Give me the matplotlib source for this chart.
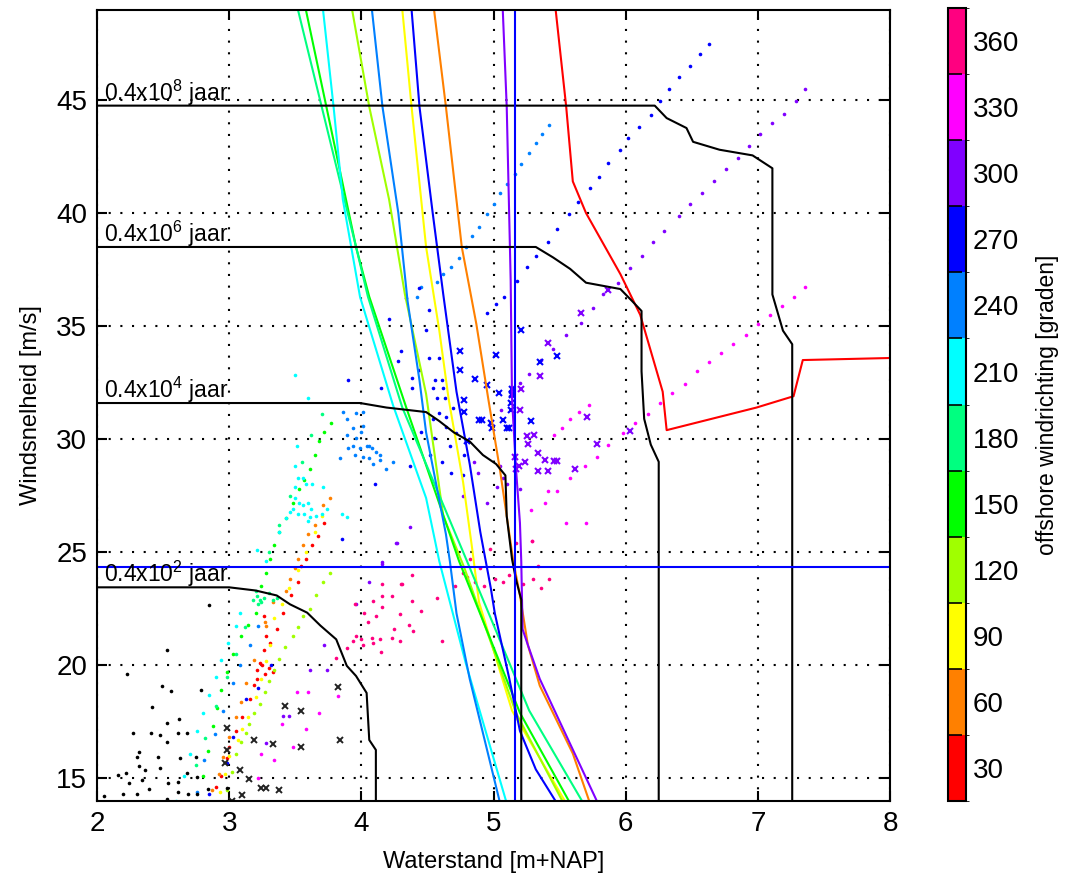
import matplotlib
matplotlib.use("Agg")
import matplotlib.pyplot as plt
from matplotlib.colors import ListedColormap, BoundaryNorm
from matplotlib.cm import ScalarMappable

plt.rcParams['font.family'] = ['Liberation Sans', 'DejaVu Sans']
plt.rcParams['mathtext.fontset'] = 'custom'
plt.rcParams['mathtext.rm'] = 'Liberation Sans'

# ---- colour classes (offshore wind direction, degrees) ----
directions = [30, 60, 90, 120, 150, 180, 210, 240, 270, 300, 330, 360]
dir_colors = ['#ff0000', '#ff8000', '#ffff00', '#a0ff00', '#00ff00', '#00ff80',
              '#00ffff', '#0080ff', '#0000ff', '#8000ff', '#ff00ff', '#ff0080']

# ---- wind speed / water level curves per direction ----
line30_x = [5.47, 5.55, 5.60, 5.70, 5.96, 6.11, 6.28, 6.31, 6.99, 7.27, 7.34, 8.07]
line30_y = [49.0, 44.7, 41.4, 40.0, 37.3, 35.5, 32.1, 30.4, 31.4, 31.9, 33.5, 33.6]
line60_x = [4.55, 4.64, 4.76, 4.87, 4.96, 5.05, 5.10, 5.15, 5.20, 5.26, 5.35, 5.60, 5.73]
line60_y = [49.0, 44.7, 38.5, 35.1, 31.8, 28.6, 26.6, 24.6, 23.1, 20.9, 19.1, 16.1, 13.9]
line90_x = [4.31, 4.38, 4.49, 4.59, 4.66, 4.77, 4.84, 4.89, 5.14, 5.55]
line90_y = [49.0, 44.7, 38.5, 34.8, 31.8, 28.1, 25.1, 22.8, 18.0, 13.9]
line120_x = [3.93, 4.06, 4.21, 4.33, 4.49, 4.62, 4.78, 5.17, 5.53]
line120_y = [49.0, 44.7, 40.6, 36.4, 32.0, 26.6, 24.3, 17.9, 13.9]
line150_x = [3.58, 3.96, 4.06, 4.34, 4.74, 5.20, 5.58]
line150_y = [49.0, 38.5, 36.3, 31.4, 24.6, 17.9, 13.9]
line180_x = [3.52, 3.96, 4.05, 4.31, 4.80, 5.27, 5.68]
line180_y = [49.0, 38.5, 36.3, 31.4, 24.6, 18.0, 13.9]
line210_x = [3.71, 3.79, 3.86, 3.99, 4.24, 4.49, 4.59, 4.79, 5.10]
line210_y = [49.0, 44.7, 40.6, 36.3, 31.5, 27.4, 24.6, 20.1, 13.9]
line240_x = [4.08, 4.16, 4.28, 4.35, 4.44, 4.49, 4.64, 4.67, 4.72, 4.82, 5.05]
line240_y = [49.0, 44.7, 40.0, 36.1, 32.6, 30.3, 25.8, 24.6, 22.3, 19.4, 13.9]
line270_x = [4.38, 4.44, 4.54, 4.62, 4.72, 4.82, 4.90, 4.98, 5.01, 5.12, 5.20, 5.32, 5.48]
line270_y = [49.0, 44.7, 40.0, 36.4, 32.1, 28.9, 25.9, 23.4, 22.3, 19.4, 17.1, 15.4, 13.9]
line300_x = [5.07, 5.10, 5.13, 5.14, 5.17, 5.20, 5.21, 5.22, 5.26, 5.35, 5.55, 5.79]
line300_y = [49.0, 44.7, 37.0, 31.8, 28.7, 26.3, 24.6, 21.6, 20.9, 19.4, 16.9, 13.9]

# ---- return period contours (black) ----
rp8_x = [1.9, 6.22, 6.31, 6.46, 6.51, 6.71, 6.96, 7.11, 7.11, 7.19, 7.26, 7.26]
rp8_y = [44.75, 44.75, 44.2, 43.76, 43.15, 42.8, 42.55, 41.98, 36.4, 34.8, 34.2, 13.5]
rp6_x = [1.9, 5.32, 5.45, 5.58, 5.70, 5.96, 6.05, 6.12, 6.12, 6.14, 6.19, 6.25, 6.25]
rp6_y = [38.5, 38.5, 38.04, 37.53, 36.92, 36.64, 36.1, 35.67, 33.0, 30.9, 29.76, 29.0, 13.5]
rp4_x = [1.9, 3.99, 4.19, 4.49, 4.59, 4.70, 4.82, 4.92, 5.02, 5.09, 5.10, 5.14, 5.17, 5.21, 5.21]
rp4_y = [31.6, 31.6, 31.4, 31.2, 30.8, 30.3, 29.9, 29.3, 28.9, 28.4, 26.6, 24.7, 23.8, 22.9, 13.5]
rp2_x = [1.9, 3.0, 3.2, 3.36, 3.46, 3.59, 3.69, 3.81, 3.89, 3.96, 4.04, 4.06, 4.11, 4.11]
rp2_y = [23.45, 23.45, 23.31, 23.09, 22.7, 22.33, 21.76, 21.15, 19.98, 19.53, 18.78, 16.7, 16.26, 13.5]
rp_labels = ['0.4x10$^{2}$ jaar', '0.4x10$^{4}$ jaar', '0.4x10$^{6}$ jaar', '0.4x10$^{8}$ jaar']

# design point cross-hair
design_x = 5.16
design_y = 24.33

# ---- scatter points ----
blk_dot_x = [2.85, 2.53, 2.23, 2.49, 2.56, 2.79, 2.42, 2.62, 2.53, 2.27, 2.41, 2.48, 2.61, 2.68,
             2.53, 2.32, 2.30, 2.46, 2.63, 2.75, 2.32, 2.36, 2.48, 2.68, 2.22, 2.16, 2.76, 2.34,
             2.24, 2.61, 2.39, 2.54, 2.61, 2.69, 2.05, 2.20, 2.30, 2.53, 2.84, 2.76, 2.98]
blk_dot_y = [22.66, 20.67, 19.63, 19.1, 18.85, 18.9, 18.16, 17.62, 17.44, 17.03, 17.03, 16.9, 17.03,
             17.03, 16.63, 16.19, 15.96, 15.96, 15.89, 15.96, 15.55, 15.37, 15.44, 15.22, 15.22,
             15.15, 15.08, 14.93, 14.78, 14.85, 14.52, 14.78, 14.41, 14.3, 14.21, 14.3, 14.3, 14.11,
             14.54, 14.33, 14.56]
blk_x_x = [3.82, 3.42, 3.54, 2.98, 3.19, 3.33, 3.54, 3.84, 2.98, 2.97, 3.08, 3.15, 3.24, 3.28, 3.38, 3.10, 3.02]
blk_x_y = [19.04, 18.19, 17.96, 17.24, 16.7, 16.5, 16.4, 16.7, 16.26, 15.67, 15.37, 14.96, 14.56, 14.56,
           14.48, 14.26, 14.0]

red_x = [2.90, 2.94, 2.98, 3.00, 3.05, 3.10, 3.16, 3.19, 3.21, 3.21, 3.23, 3.26, 3.28, 3.26, 3.33,
         3.30, 3.25, 3.27, 3.31, 3.36, 3.41, 3.47, 3.52, 3.54, 3.58, 3.63, 3.67, 3.72]
red_y = [14.6, 15.1, 15.9, 16.4, 17.1, 17.7, 18.5, 19.15, 19.4, 19.8, 20.1, 20.7, 21.3, 22.2, 19.7,
         19.9, 20.0, 19.6, 21.0, 21.6, 22.3, 23.1, 23.7, 24.4, 24.7, 25.3, 25.7, 26.3]
org_x = [2.87, 2.92, 2.95, 3.00, 3.05, 3.09, 3.13, 3.19, 3.28, 3.27, 3.33, 3.43, 3.46, 3.50, 3.52,
         3.56, 3.60, 3.65, 3.71, 3.76]
org_y = [14.5, 15.2, 15.96, 16.85, 17.7, 18.4, 19.2, 20.25, 21.75, 21.9, 22.8, 23.3, 23.8, 24.3, 24.7,
         25.3, 25.8, 26.2, 27.1, 27.4]
yel_x = [2.93, 2.97, 3.00, 3.07, 3.10, 3.14, 3.20, 3.24, 3.28, 3.31, 3.34, 3.40, 3.45, 3.52, 3.58, 3.65, 3.70]
yel_y = [14.4, 15.2, 16.0, 16.7, 17.2, 17.7, 18.6, 19.4, 20.2, 20.9, 22.1, 22.7, 23.4, 24.2, 25.0, 25.9, 26.6]
ygr_x = [2.98, 3.02, 3.05, 3.09, 3.13, 3.15, 3.19, 3.23, 3.27, 3.30, 3.34, 3.38, 3.42, 3.48, 3.52,
         3.56, 3.61, 3.66, 3.71, 3.76]
ygr_y = [14.5, 15.3, 16.1, 16.6, 17.0, 17.4, 17.9, 18.3, 18.8, 19.3, 19.8, 20.3, 20.8, 21.3, 21.7,
         22.2, 22.5, 23.1, 23.7, 24.1]
grn_x = [2.80, 2.84, 2.88, 2.91, 2.94, 2.98, 3.03, 3.09, 3.14, 3.20, 3.24, 3.28, 3.31, 3.34, 3.38,
         3.43, 3.48, 3.53, 3.57, 3.61, 3.65, 3.68, 3.72, 3.77]
grn_y = [15.1, 16.2, 17.3, 18.1, 18.9, 19.7, 20.5, 21.3, 21.8, 22.3, 23.5, 24.1, 24.7, 25.3, 25.9,
         26.5, 27.2, 27.8, 28.2, 28.7, 29.3, 29.9, 30.3, 30.7]
sgr_x = [3.18, 3.20, 3.21, 3.23, 3.24, 3.26, 3.30, 3.33, 3.36, 3.22, 2.75, 2.82, 2.90, 2.98, 3.05,
         3.12, 3.30, 3.38, 3.46, 3.55, 3.62, 3.70]
sgr_y = [22.9, 23.3, 23.07, 22.9, 22.8, 23.0, 23.2, 22.9, 23.0, 22.7, 15.6, 16.8, 18.2, 19.5, 20.5,
         21.7, 25.0, 26.2, 27.5, 29.0, 30.2, 31.1]
cyn_x = [3.50, 3.60, 3.51, 3.50, 3.52, 3.56, 3.58, 3.50, 3.50, 3.53, 3.56, 3.60, 3.62, 3.48, 3.52,
         3.57, 3.61, 3.66, 3.70, 3.71, 3.63, 3.74, 3.46, 3.43, 3.85, 3.89, 3.60, 3.38, 3.28, 3.21,
         3.08, 3.05, 2.99, 2.94, 2.90, 2.85, 2.80, 2.76, 2.70, 2.66, 2.60]
cyn_y = [32.85, 31.8, 29.7, 28.8, 28.3, 28.3, 28.0, 27.9, 27.4, 27.2, 27.1, 27.2, 26.9, 26.9, 26.7,
         26.7, 26.55, 26.6, 26.7, 27.9, 28.0, 26.9, 26.8, 26.5, 26.7, 26.55, 26.4, 25.9, 24.6, 25.1,
         22.3, 21.75, 21.0, 20.25, 19.5, 18.7, 17.9, 17.1, 16.1, 15.1, 14.0]
azr_x = [3.86, 3.89, 3.96, 4.01, 3.89, 3.94, 3.96, 4.00, 3.94, 3.90, 3.99, 4.04, 4.08, 4.11, 3.95,
         4.01, 4.06, 4.09, 4.14, 3.84, 4.19, 4.24, 4.01, 4.06, 4.14,
         3.22, 3.16, 3.08, 3.03, 2.95, 2.89, 2.81, 2.76,
         4.42, 4.45, 4.57, 4.62, 4.68, 4.74, 4.79, 4.84, 4.89, 4.95, 5.00, 5.05, 5.10, 5.16, 5.21,
         5.27, 5.32, 5.37, 5.42]
azr_y = [31.2, 30.9, 31.15, 31.2, 30.2, 30.5, 30.04, 30.3, 29.7, 29.6, 29.6, 29.7, 29.6, 29.45, 29.3,
         29.2, 29.15, 28.9, 29.1, 29.15, 28.7, 29.0, 30.6, 29.7, 29.3,
         21.75, 20.9, 20.0, 19.2, 18.0, 16.95, 15.8, 14.4,
         36.3, 36.75, 36.96, 37.3, 37.6, 38.0, 38.5, 39.0, 39.4, 39.96, 40.4, 40.9, 41.3, 41.74, 42.16,
         42.66, 43.1, 43.5, 43.9]
blu_x = [4.44, 4.51, 4.49, 4.30, 4.51, 4.59, 4.44, 4.56, 4.61, 4.54, 4.62, 4.38, 4.15, 4.57, 4.63,
         4.69, 4.59, 4.54, 4.64, 4.64, 4.72, 4.45, 4.55, 4.67, 4.52, 4.61, 4.78, 4.37, 4.68, 4.10,
         3.90, 3.85, 4.28, 4.38, 4.21, 4.34, 4.77,
         4.95, 5.02, 5.08, 5.18, 5.25, 5.32, 5.41, 5.48, 5.57, 5.64, 5.73, 5.80, 5.87, 5.96, 6.02,
         6.10, 6.19, 6.26, 6.33, 6.40, 6.49, 6.56, 6.63,
         3.32, 3.22, 3.13, 3.03, 2.98, 2.85]
blu_y = [36.7, 35.7, 34.85, 33.9, 33.6, 33.6, 33.07, 32.6, 32.6, 32.26, 32.26, 32.26, 32.26, 31.8, 31.8,
         31.4, 31.15, 30.9, 31.0, 30.56, 30.26, 30.3, 30.04, 29.7, 29.3, 29.0, 29.3, 28.8, 28.5, 28.0,
         32.6, 25.6, 33.44, 32.7, 35.3, 36.26, 28.4,
         35.6, 36.0, 36.3, 37.0, 37.6, 38.1, 38.7, 39.3, 39.96, 40.5, 41.1, 41.6, 42.2, 42.8, 43.3,
         43.8, 44.33, 44.97, 45.5, 46.0, 46.5, 47.04, 47.48,
         20.0, 19.0, 18.5, 16.85, 15.67, 14.3]
blu_xm_x = [5.21, 4.75, 5.02, 4.75, 4.86, 4.95, 5.04, 4.78, 5.14, 4.78, 4.89, 4.91, 5.07, 4.99, 5.12,
            4.80, 4.98, 5.48, 5.35, 5.28, 5.10, 5.13, 5.13, 5.14, 5.14]
blu_xm_y = [34.85, 33.9, 33.74, 33.07, 32.66, 32.38, 32.04, 31.74, 31.95, 31.2, 30.85, 30.85, 30.85,
            30.48, 30.48, 29.9, 30.7, 33.7, 33.4, 30.8, 30.5, 31.3, 31.6, 32.0, 32.2]
vio_x = [4.85, 4.88, 5.05, 5.07, 4.37, 4.27, 4.16, 4.95, 4.77, 5.06, 3.41, 3.45, 3.28, 3.61, 3.74,
         3.72, 3.96, 4.06, 4.16, 4.26, 5.03, 5.10, 5.20,
         5.20, 5.27, 5.36, 5.45, 5.55, 5.66, 5.75, 5.83, 5.94, 6.03, 6.12, 6.21, 6.29, 6.40, 6.49,
         6.58, 6.67, 6.76, 6.85, 6.93, 7.02, 7.11, 7.20, 7.29, 7.36]
vio_y = [29.0, 28.5, 28.8, 28.27, 26.1, 25.4, 24.56, 27.2, 27.5, 31.3, 17.75, 17.75, 16.55, 19.8, 19.8,
         20.9, 22.7, 23.7, 24.5, 25.4, 27.9, 28.0, 27.8,
         32.5, 32.9, 33.5, 34.0, 34.6, 35.15, 35.8, 36.4, 36.9, 37.56, 38.1, 38.7, 39.2, 39.86, 40.4,
         40.9, 41.4, 41.93, 42.45, 42.97, 43.5, 44.0, 44.4, 44.97, 45.5]
vio_xm_x = [5.66, 5.41, 5.35, 5.21, 5.20, 5.71, 5.31, 5.25, 5.26, 5.78, 6.03, 5.34, 5.39, 5.24, 5.46,
            5.62, 5.41, 5.34, 5.19, 5.87, 5.16, 5.17, 5.48]
vio_xm_y = [35.6, 34.26, 32.8, 32.2, 31.3, 31.0, 30.2, 30.16, 29.8, 29.77, 30.36, 29.4, 29.07, 29.0,
            29.03, 28.7, 28.6, 28.6, 28.8, 36.6, 29.2, 28.7, 29.03]
mag_x = [5.78, 5.87, 5.98, 6.07, 6.17, 6.26, 6.35, 6.45, 6.54, 6.63, 6.72, 6.81, 6.91, 7.00, 7.09,
         7.18, 7.27, 7.36,
         5.46, 5.52, 5.58, 5.65, 5.72, 5.69, 5.58, 5.48, 5.41, 5.39, 5.28, 5.29, 5.70, 5.55,
         3.51, 3.60, 3.68, 3.82, 3.40, 3.58, 3.48, 3.34, 3.24, 3.22]
mag_y = [29.2, 29.74, 30.26, 30.7, 31.1, 31.6, 32.04, 32.45, 33.0, 33.4, 33.8, 34.2, 34.6, 35.1, 35.5,
         35.9, 36.3, 36.75,
         30.2, 30.5, 30.9, 31.2, 31.5, 28.8, 28.3, 27.7, 27.7, 27.2, 26.85, 25.5, 26.3, 26.3,
         18.8, 18.8, 17.9, 18.66, 17.4, 17.2, 16.4, 15.8, 16.1, 15.0]
ros_x = [3.95, 4.09, 4.16, 4.31, 4.16, 4.02, 4.11, 4.05, 3.96, 4.00, 4.08, 3.94, 4.14, 4.23, 4.29,
         4.01, 4.09, 3.89, 4.15, 4.25, 3.81, 4.30, 4.23, 4.38, 4.16, 4.29, 4.45, 4.36, 4.39, 4.61,
         4.57, 4.38, 4.82, 4.77, 4.86, 4.97, 5.01, 5.07, 5.30, 5.36, 5.42, 5.17, 5.29, 4.90, 4.93,
         5.12, 5.22, 5.34, 4.80, 4.71]
ros_y = [22.7, 22.85, 23.07, 23.6, 23.6, 22.33, 22.2, 21.9, 21.3, 21.15, 21.2, 21.07, 21.15, 21.2,
         21.07, 20.92, 21.0, 20.78, 20.59, 21.6, 20.33, 23.6, 23.07, 22.85, 22.6, 22.26, 22.4, 21.8,
         21.5, 21.07, 23.0, 24.0, 24.7, 24.1, 23.7, 25.15, 23.8, 23.7, 23.8, 23.4, 23.8, 25.4, 25.5,
         24.3, 23.5, 24.0, 23.6, 24.4, 23.9, 23.5]

fig = plt.figure(figsize=(10.74, 8.82), dpi=100)
ax = fig.add_axes([0.0903, 0.0918, 0.7384, 0.8974])

# dots per direction
dot_sets = [(red_x, red_y, 30), (org_x, org_y, 60), (yel_x, yel_y, 90), (ygr_x, ygr_y, 120),
            (grn_x, grn_y, 150), (sgr_x, sgr_y, 180), (cyn_x, cyn_y, 210), (azr_x, azr_y, 240),
            (blu_x, blu_y, 270), (vio_x, vio_y, 300), (mag_x, mag_y, 330), (ros_x, ros_y, 360)]
for xs, ys, d in dot_sets:
    ax.plot(xs, ys, ls='none', marker='o', ms=2.6, mew=0, color=dir_colors[directions.index(d)])
ax.plot(blk_dot_x, blk_dot_y, ls='none', marker='o', ms=2.6, mew=0, color='k')
ax.plot(blk_x_x, blk_x_y, ls='none', marker='x', ms=5, mew=1.4, color='#222222')
ax.plot(blu_xm_x, blu_xm_y, ls='none', marker='x', ms=5, mew=1.5, color=dir_colors[8])
ax.plot(vio_xm_x, vio_xm_y, ls='none', marker='x', ms=5, mew=1.5, color=dir_colors[9])

# curves per direction
line_sets = [(line30_x, line30_y, 30), (line60_x, line60_y, 60), (line90_x, line90_y, 90),
             (line120_x, line120_y, 120), (line150_x, line150_y, 150), (line180_x, line180_y, 180),
             (line210_x, line210_y, 210), (line240_x, line240_y, 240), (line270_x, line270_y, 270),
             (line300_x, line300_y, 300)]
for xs, ys, d in line_sets:
    ax.plot(xs, ys, color=dir_colors[directions.index(d)], lw=1.5)

# return period contours + labels
for (xs, ys), lab in zip([(rp2_x, rp2_y), (rp4_x, rp4_y), (rp6_x, rp6_y), (rp8_x, rp8_y)], rp_labels):
    ax.plot(xs, ys, color='k', lw=1.5)
    ax.text(2.05, ys[0] + 0.22, lab, fontsize=16.5, va='baseline', ha='left')

ax.axhline(design_y, color='#0000ff', lw=1.5)
ax.axvline(design_x, color='#0000ff', lw=1.5)

ax.set_xlim(2, 8)
ax.set_ylim(14, 49)
ax.set_xticks([2, 3, 4, 5, 6, 7, 8])
ax.set_yticks([15, 20, 25, 30, 35, 40, 45])
ax.grid(True, color='k', ls=(0, (1, 4.6)), lw=1.5)
ax.tick_params(direction='in', length=7, width=1.5, top=True, right=True, labelsize=20, pad=7)
for s in ax.spines.values():
    s.set_linewidth(1.5)
ax.set_xlabel('Waterstand [m+NAP]', fontsize=17, labelpad=10)
ax.set_ylabel('Windsnelheid [m/s]', fontsize=17, labelpad=10)

# colour bar
bounds = [15, 45, 75, 105, 135, 165, 195, 225, 255, 285, 315, 345, 375]
cmap = ListedColormap(dir_colors)
norm = BoundaryNorm(bounds, cmap.N)
cax = fig.add_axes([0.8827, 0.0918, 0.0168, 0.899])
cb = fig.colorbar(ScalarMappable(norm=norm, cmap=cmap), cax=cax, ticks=directions)
cb.outline.set_linewidth(1.5)
cax.tick_params(length=0, labelsize=20, pad=5)
cax.hlines(bounds[1:-1], 0, 0.75, colors='k', lw=1.2, transform=cax.get_yaxis_transform())
cb.set_label('offshore windrichting [graden]', fontsize=16.5, labelpad=12)

fig.savefig('out.png', dpi=100)
